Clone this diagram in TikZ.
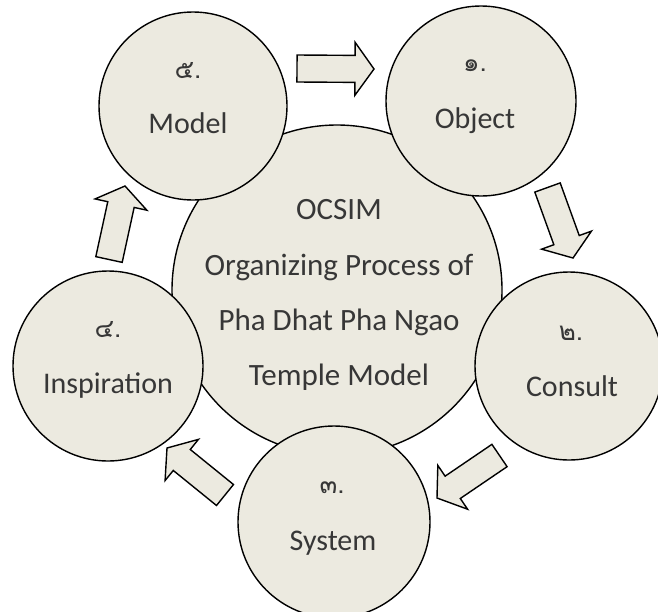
\documentclass[tikz,border=0pt]{standalone}
\usepackage{fontspec}
\setmainfont{Carlito}
\newfontfamily\thaifont[Script=Thai]{Loma}
\usetikzlibrary{calc}
\definecolor{fillc}{RGB}{236,234,224}
\definecolor{txtc}{RGB}{55,55,55}
\newcommand{\blockarr}[2]{%
  \coordinate (#1b) at ($(#2)!19pt!(#1)$);
  \draw[arrshape] ($(#1)!13.5pt!90:(#2)$) -- ($(#1b)!13.5pt!90:(#2)$) -- ($(#1b)!26.5pt!90:(#2)$)
    -- (#2) -- ($(#1b)!26.5pt!-90:(#2)$) -- ($(#1b)!13.5pt!-90:(#2)$) -- ($(#1)!13.5pt!-90:(#2)$) -- cycle;}
\begin{document}
\begin{tikzpicture}[x=1pt,y=-1pt,
  bub/.style={circle, draw=black, line width=1.4pt, fill=fillc, inner sep=0pt},
  arrshape/.style={draw=black, line width=1.4pt, fill=fillc, line join=miter},
  nametxt/.style={anchor=base, inner sep=0pt, text=txtc, font=\fontsize{30}{36}\selectfont},
  numtxt/.style={anchor=base, inner sep=0pt, text=txtc, font=\thaifont\fontsize{26}{31}\selectfont},
  centxt/.style={anchor=base, inner sep=0pt, text=txtc, font=\fontsize{31}{37}\selectfont}]
\useasboundingbox (0,0) rectangle (658,611);
% central circle
\node[bub, minimum size=330pt] (core) at (337,290) {};
\node[centxt] (c1) at (339,219) {OCSIM};
\node[centxt] (c2) at (339,275) {Organizing Process of};
\node[centxt] (c3) at (339,330) {Pha Dhat Pha Ngao};
\node[centxt] (c4) at (339,385) {Temple Model};
% outer circles
\node[bub, minimum size=188pt] (model) at (193,106) {};
\node[bub, minimum size=190pt] (object) at (481,101) {};
\node[bub, minimum size=188pt] (consult) at (569,366) {};
\node[bub, minimum size=192pt] (system) at (334,522) {};
\node[bub, minimum size=190pt] (inspiration) at (108,366) {};
% labels
\node[numtxt] (model-n) at (188,78) {๕.};
\node[nametxt] (model-t) at (188,133) {Model};
\node[numtxt] (object-n) at (475,71) {๑.};
\node[nametxt] (object-t) at (475,128) {Object};
\node[numtxt] (consult-n) at (571,340) {๒.};
\node[nametxt] (consult-t) at (572,396) {Consult};
\node[numtxt] (system-n) at (332,493) {๓.};
\node[nametxt] (system-t) at (333,550) {System};
\node[numtxt] (inspiration-n) at (108,337) {๔.};
\node[nametxt] (inspiration-t) at (108,393) {Inspiration};
% block arrows
\coordinate (a1) at (297,68.5); \coordinate (a1h) at (374,69);
\coordinate (a2) at (547.5,187.5); \coordinate (a2h) at (573,258);
\coordinate (a3) at (499.5,455.5); \coordinate (a3h) at (437,498);
\coordinate (a4) at (225,495); \coordinate (a4h) at (167,448);
\coordinate (a5) at (109,259.5); \coordinate (a5h) at (125,186);
\blockarr{a1}{a1h}
\blockarr{a2}{a2h}
\blockarr{a3}{a3h}
\blockarr{a4}{a4h}
\blockarr{a5}{a5h}
\end{tikzpicture}
\end{document}
